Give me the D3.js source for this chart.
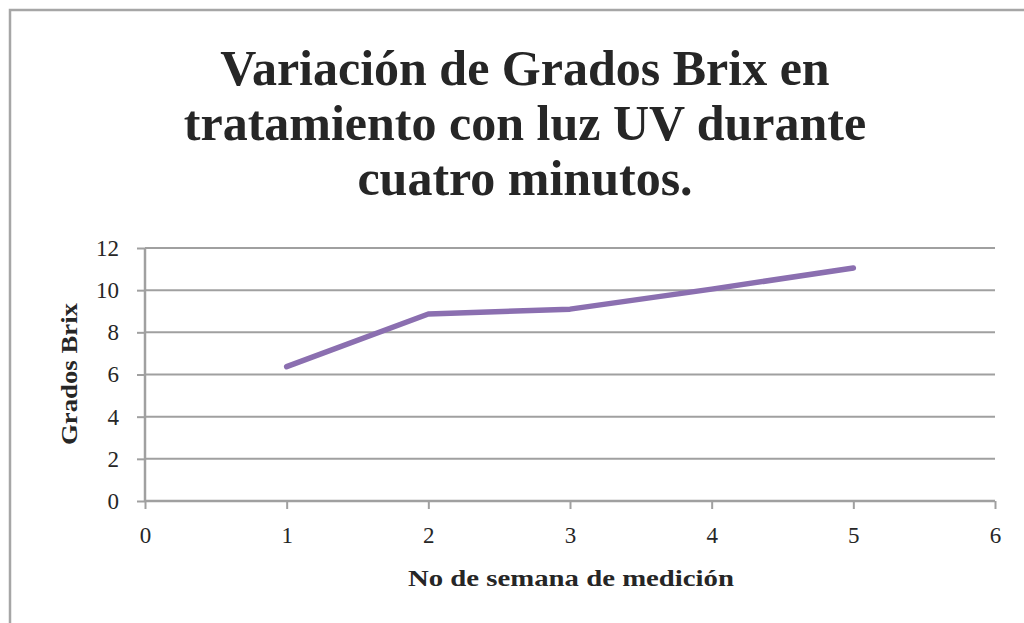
<!DOCTYPE html>
<html>
<head>
<meta charset="utf-8">
<script src="https://cdn.jsdelivr.net/npm/d3@7"></script>
<style>
html,body{margin:0;padding:0;background:#fff;}
svg{display:block;}
text{font-family:"Liberation Serif","DejaVu Serif",serif;fill:#262626;}
</style>
</head>
<body>
<svg id="chart" width="1024" height="623"></svg>
<script>
const titleLines = ["Variación de Grados Brix en", "tratamiento con luz UV durante", "cuatro minutos."];
const weeks = [1, 2, 3, 4, 5];
const brix = [6.37, 8.87, 9.1, 10.05, 11.05];
const xTicks = [0, 1, 2, 3, 4, 5, 6];
const yTicks = [0, 2, 4, 6, 8, 10, 12];
const xTitle = "No de semana de medición";
const yTitle = "Grados Brix";

const svg = d3.select("#chart");
// outer border
svg.append("rect").attr("x", 10).attr("y", 10).attr("width", 1030).attr("height", 640)
  .attr("fill", "none").attr("stroke", "#a6a6a6").attr("stroke-width", 2.5);

const x = d3.scaleLinear().domain([0, 6]).range([145, 995]);
const y = d3.scaleLinear().domain([0, 12]).range([501, 248]);

// title
const t = svg.append("text").attr("text-anchor", "middle").attr("font-weight", "bold").attr("font-size", 50);
titleLines.forEach((l, i) => {
  t.append("tspan").attr("x", 525).attr("y", 85 + i * 55).text(l);
});

// grid
svg.append("g").selectAll("line").data(yTicks.filter(d => d > 0)).join("line")
  .attr("x1", x(0)).attr("x2", x(6)).attr("y1", d => y(d)).attr("y2", d => y(d))
  .attr("stroke", "#a0a0a0").attr("stroke-width", 2);

// y axis
const ya = svg.append("g").attr("transform", `translate(${x(0)},0)`)
  .call(d3.axisLeft(y).tickValues(yTicks).tickSize(8).tickPadding(18).tickFormat(d3.format("d")));
ya.select(".domain").attr("stroke", "#a0a0a0").attr("stroke-width", 2.5).attr("d", `M0,${y(12)}V${y(0)}`);
ya.selectAll(".tick line").attr("stroke", "#a0a0a0").attr("stroke-width", 2);
ya.selectAll(".tick text").attr("font-size", 23).attr("fill", "#383838").attr("font-family", "Liberation Serif");

// x axis
const xa = svg.append("g").attr("transform", `translate(0,${y(0)})`)
  .call(d3.axisBottom(x).tickValues(xTicks).tickSize(8).tickPadding(18).tickFormat(d3.format("d")));
xa.select(".domain").attr("stroke", "#a0a0a0").attr("stroke-width", 2.5).attr("d", `M${x(0)},0H${x(6)}`);
xa.selectAll(".tick line").attr("stroke", "#a0a0a0").attr("stroke-width", 2);
xa.selectAll(".tick text").attr("font-size", 23).attr("fill", "#383838").attr("font-family", "Liberation Serif");

// line
svg.append("path").datum(weeks.map((w, i) => [w, brix[i]]))
  .attr("fill", "none").attr("stroke", "#8b6fb0").attr("stroke-width", 5.5)
  .attr("stroke-linecap", "round").attr("stroke-linejoin", "round")
  .attr("d", d3.line().x(d => x(d[0])).y(d => y(d[1])));

// axis titles
svg.append("text").attr("x", 571).attr("y", 586).attr("text-anchor", "middle")
  .attr("font-weight", "bold").attr("font-size", 23)
  .attr("textLength", 326).attr("lengthAdjust", "spacingAndGlyphs").text(xTitle);
svg.append("text").attr("transform", "translate(77,374) rotate(-90)").attr("text-anchor", "middle")
  .attr("font-weight", "bold").attr("font-size", 23)
  .attr("textLength", 142).attr("lengthAdjust", "spacingAndGlyphs").text(yTitle);
</script>
</body>
</html>
